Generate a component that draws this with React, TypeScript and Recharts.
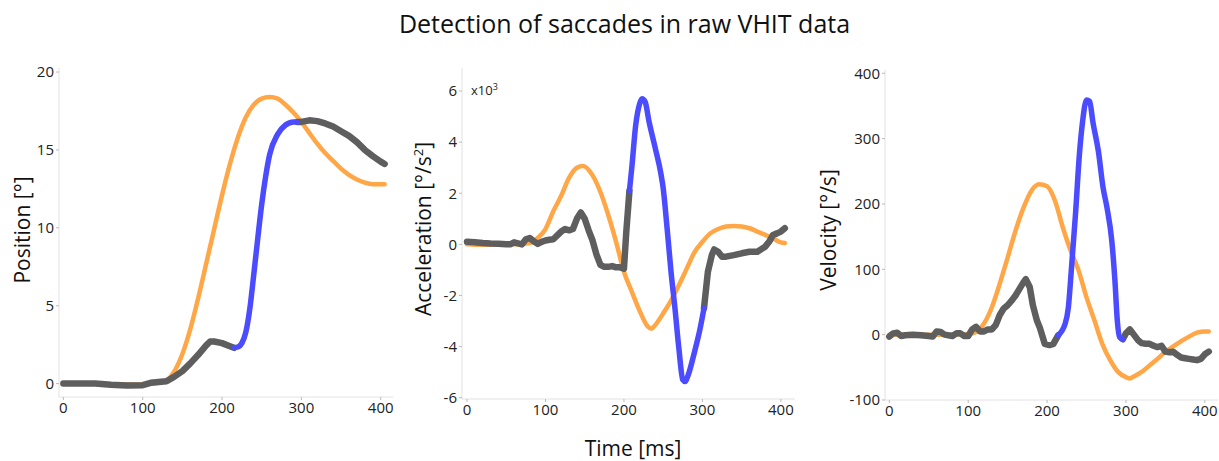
import React from 'react';
import { LineChart, Line, XAxis, YAxis } from 'recharts';

// Time axis ticks shared by all panels (ms)
const timeTicks = [0, 100, 200, 300, 400];

// ---- Position panel ----
const posTicks = [0, 5, 10, 15, 20];
const posHeadT = [0, 20, 40, 60, 80, 100, 110, 120, 130, 140, 150, 160, 170, 180, 190, 200, 210, 220, 230, 240, 250, 260, 270, 280, 290, 300, 310, 320, 330, 340, 350, 360, 370, 380, 390, 400, 405];
const posHeadV = [0, 0, 0, -0.05, -0.05, -0.05, 0, 0.05, 0.2, 0.8, 1.9, 3.5, 5.5, 7.7, 9.9, 12.1, 14.1, 15.8, 17.1, 17.9, 18.3, 18.4, 18.3, 17.9, 17.4, 16.8, 16.1, 15.4, 14.8, 14.3, 13.8, 13.4, 13.1, 12.9, 12.8, 12.8, 12.8];
const posEyeT1 = [0, 20, 40, 60, 80, 100, 110, 120, 130, 140, 150, 160, 170, 180, 185, 190, 200, 210, 215];
const posEyeV1 = [0, 0, 0, -0.08, -0.12, -0.1, 0.05, 0.1, 0.15, 0.45, 0.8, 1.3, 1.85, 2.45, 2.7, 2.7, 2.6, 2.4, 2.3];
const posSacT = [215, 220, 225, 230, 235, 240, 245, 250, 255, 260, 270, 280, 290, 295];
const posSacV = [2.3, 2.35, 2.6, 3.3, 4.8, 7.0, 9.3, 11.5, 13.3, 14.7, 16.0, 16.6, 16.8, 16.8];
const posEyeT2 = [295, 300, 310, 320, 330, 340, 350, 360, 370, 380, 390, 400, 405];
const posEyeV2 = [16.8, 16.8, 16.9, 16.85, 16.7, 16.5, 16.2, 15.9, 15.5, 15.0, 14.6, 14.25, 14.1];

// ---- Acceleration panel (x10^3) ----
const accTicks = [-6, -4, -2, 0, 2, 4, 6];
const accHeadT = [0, 20, 40, 60, 80, 90, 100, 110, 120, 130, 140, 148, 160, 170, 180, 190, 200, 210, 220, 230, 235, 240, 250, 260, 270, 280, 290, 300, 310, 320, 330, 340, 350, 360, 370, 380, 390, 400, 405];
const accHeadV = [0, -0.02, -0.02, 0, 0.05, 0.25, 0.6, 1.3, 1.9, 2.6, 3.0, 3.07, 2.7, 2.05, 1.15, 0.1, -1.07, -1.85, -2.6, -3.2, -3.3, -3.15, -2.7, -2.2, -1.6, -0.95, -0.3, 0.1, 0.43, 0.6, 0.7, 0.72, 0.7, 0.63, 0.5, 0.37, 0.23, 0.08, 0.05];
const accEyeT1 = [0, 10, 20, 30, 40, 50, 55, 60, 70, 75, 80, 85, 90, 95, 100, 105, 110, 115, 120, 125, 130, 135, 140, 145, 150, 155, 160, 165, 170, 175, 180, 185, 190, 195, 200, 203, 207];
const accEyeV1 = [0.1, 0.08, 0.05, 0.03, 0.02, 0, 0, 0.08, 0, 0.2, 0.25, 0.12, 0.02, 0.1, 0.15, 0.18, 0.2, 0.35, 0.5, 0.6, 0.55, 0.6, 1.0, 1.25, 1.0, 0.55, 0.15, -0.4, -0.8, -0.88, -0.88, -0.85, -0.9, -0.9, -0.95, 0.5, 2.1];
const accSacT = [207, 210, 215, 220, 223, 227, 232, 240, 247, 250, 255, 260, 265, 270, 275, 278, 282, 290, 297, 302];
const accSacV = [2.1, 3.0, 4.67, 5.5, 5.7, 5.58, 4.8, 3.75, 2.78, 2.2, 0.63, -1.07, -2.5, -4.07, -5.3, -5.37, -5.1, -4.2, -3.3, -2.5];
const accEyeT2 = [302, 307, 312, 315, 320, 325, 330, 340, 350, 360, 370, 380, 385, 390, 395, 400, 405];
const accEyeV2 = [-2.5, -1.07, -0.42, -0.2, -0.29, -0.48, -0.48, -0.42, -0.35, -0.29, -0.29, -0.09, 0.1, 0.37, 0.43, 0.5, 0.63];

// ---- Velocity panel ----
const velTicks = [-100, 0, 100, 200, 300, 400];
const velHeadT = [0, 20, 40, 60, 80, 100, 110, 120, 130, 140, 150, 160, 170, 180, 190, 200, 210, 220, 230, 240, 250, 260, 270, 280, 290, 300, 305, 310, 320, 330, 340, 350, 360, 370, 380, 390, 400, 405];
const velHeadV = [0, 0, 0, 0, 0, 1, 4, 17, 42, 78, 118, 159, 194, 220, 230, 227, 205, 164, 128, 98, 57, 22, -14, -39, -57, -65, -67, -64, -57, -47, -37, -26, -18, -10, -3, 3, 5, 5];
const velEyeT1 = [0, 5, 10, 15, 20, 30, 40, 50, 55, 60, 65, 70, 80, 85, 90, 95, 100, 105, 110, 115, 120, 125, 130, 135, 140, 145, 150, 155, 160, 165, 170, 173, 178, 182, 187, 191, 197, 203, 208, 214];
const velEyeV1 = [-3, 2, 3, -2, -1, 0, -1, -2, -3, 5, 4, 0, -2, 2, 2, -2, -2, 8, 12, 5, 5, 8, 8, 15, 30, 40, 45, 52, 60, 70, 80, 85, 73, 45, 22, 10, -14, -16, -14, -1];
const velSacT = [214, 223, 227, 231, 236, 241, 245, 250, 254, 258, 265, 271, 276, 282, 286, 289, 292, 296];
const velSacV = [-1, 17, 42, 103, 184, 276, 326, 359, 357, 326, 281, 225, 194, 144, 83, 22, -4, -7];
const velEyeT2 = [296, 300, 305, 310, 315, 320, 325, 330, 335, 340, 345, 350, 355, 360, 365, 370, 375, 380, 385, 390, 395, 400, 405];
const velEyeV2 = [-7, 2, 8, 0, -8, -13, -14, -14, -17, -19, -17, -26, -27, -26, -31, -35, -36, -37, -38, -39, -37, -30, -26];

const ORANGE = '#FFA647';
const GRAY = '#5E5E5E';
const BLUE = '#4B4BFF';
const FONT = '"Open Sans", "DejaVu Sans", sans-serif';

const zip = (t: number[], v: number[]) => t.map((x, i) => ({ t: x, v: v[i] }));

interface PanelProps {
  left: number;
  width: number;
  margin: { top: number; right: number; bottom: number; left: number };
  xDomain: [number, number];
  yDomain: [number, number];
  yTicks: number[];
  head: [number[], number[]];
  eye1: [number[], number[]];
  sac: [number[], number[]];
  eye2: [number[], number[]];
}

function Panel({ left, width, margin, xDomain, yDomain, yTicks, head, eye1, sac, eye2 }: PanelProps) {
  const tickStyle = { fill: '#222', fontSize: 15, fontFamily: FONT };
  return (
    <div style={{ position: 'absolute', left, top: 0 }}>
      <LineChart width={width} height={430} margin={margin}>
        <XAxis
          dataKey="t"
          type="number"
          domain={xDomain}
          ticks={timeTicks}
          allowDataOverflow
          height={30}
          tick={tickStyle}
          tickSize={3}
          tickLine={{ stroke: '#bbb' }}
          axisLine={{ stroke: '#e2e2e2' }}
        />
        <XAxis xAxisId="top" orientation="top" type="number" domain={xDomain} height={0} tick={false} tickLine={false} axisLine={{ stroke: '#ececec' }} />
        <YAxis
          type="number"
          domain={yDomain}
          ticks={yTicks}
          allowDataOverflow
          width={50}
          tick={tickStyle}
          tickSize={3}
          tickLine={{ stroke: '#bbb' }}
          axisLine={{ stroke: '#e2e2e2' }}
        />
        <YAxis yAxisId="right" orientation="right" type="number" domain={yDomain} width={0} tick={false} tickLine={false} axisLine={{ stroke: '#ececec' }} />
        <Line data={zip(head[0], head[1])} dataKey="v" type="monotone" stroke={ORANGE} strokeWidth={4.5} dot={false} isAnimationActive={false} strokeLinecap="round" />
        <Line data={zip(eye1[0], eye1[1])} dataKey="v" type="linear" stroke={GRAY} strokeWidth={6.5} dot={false} isAnimationActive={false} strokeLinecap="round" strokeLinejoin="round" />
        <Line data={zip(eye2[0], eye2[1])} dataKey="v" type="linear" stroke={GRAY} strokeWidth={6.5} dot={false} isAnimationActive={false} strokeLinecap="round" strokeLinejoin="round" />
        <Line data={zip(sac[0], sac[1])} dataKey="v" type="monotone" stroke={BLUE} strokeWidth={5.5} dot={false} isAnimationActive={false} strokeLinecap="round" />
      </LineChart>
    </div>
  );
}

const yLabel = (text: React.ReactNode, x: number, y: number) => (
  <div
    style={{
      position: 'absolute',
      left: x,
      top: y,
      transform: 'translate(-50%, -50%) rotate(-90deg)',
      whiteSpace: 'nowrap',
      fontSize: 21,
      color: '#111',
    }}
  >
    {text}
  </div>
);

export default function App() {
  return (
    <div style={{ position: 'absolute', left: 0, top: 0, width: 1219, height: 461, background: '#fff', fontFamily: FONT, overflow: 'hidden' }}>
      <div style={{ position: 'absolute', left: 0, width: 1249, top: 6, textAlign: 'center', fontSize: 25, color: '#111' }}>
        Detection of saccades in raw VHIT data
      </div>

      <Panel
        left={0}
        width={400}
        margin={{ top: 68, right: 7, bottom: 3, left: 9 }}
        xDomain={[-5.5, 415.5]}
        yDomain={[-0.86, 20.26]}
        yTicks={posTicks}
        head={[posHeadT, posHeadV]}
        eye1={[posEyeT1, posEyeV1]}
        sac={[posSacT, posSacV]}
        eye2={[posEyeT2, posEyeV2]}
      />
      <Panel
        left={400}
        width={400}
        margin={{ top: 68, right: 5, bottom: 1, left: 12 }}
        xDomain={[-6.4, 418]}
        yDomain={[-6.05, 6.9]}
        yTicks={accTicks}
        head={[accHeadT, accHeadV]}
        eye1={[accEyeT1, accEyeV1]}
        sac={[accSacT, accSacV]}
        eye2={[accEyeT2, accEyeV2]}
      />
      <Panel
        left={800}
        width={419}
        margin={{ top: 70, right: 1, bottom: 0, left: 35 }}
        xDomain={[-5.5, 416.7]}
        yDomain={[-100, 405]}
        yTicks={velTicks}
        head={[velHeadT, velHeadV]}
        eye1={[velEyeT1, velEyeV1]}
        sac={[velSacT, velSacV]}
        eye2={[velEyeT2, velEyeV2]}
      />

      {yLabel('Position [°]', 22, 230)}
      {yLabel(<span>Acceleration [°/s<sup style={{ fontSize: 13 }}>2</sup>]</span>, 423, 229)}
      {yLabel('Velocity [°/s]', 828, 230)}

      <div style={{ position: 'absolute', left: 471, top: 80, fontSize: 13, color: '#222' }}>
        x10<sup style={{ fontSize: 9 }}>3</sup>
      </div>

      <div style={{ position: 'absolute', left: 0, width: 1266, top: 434, textAlign: 'center', fontSize: 21, color: '#111' }}>
        Time [ms]
      </div>
    </div>
  );
}
